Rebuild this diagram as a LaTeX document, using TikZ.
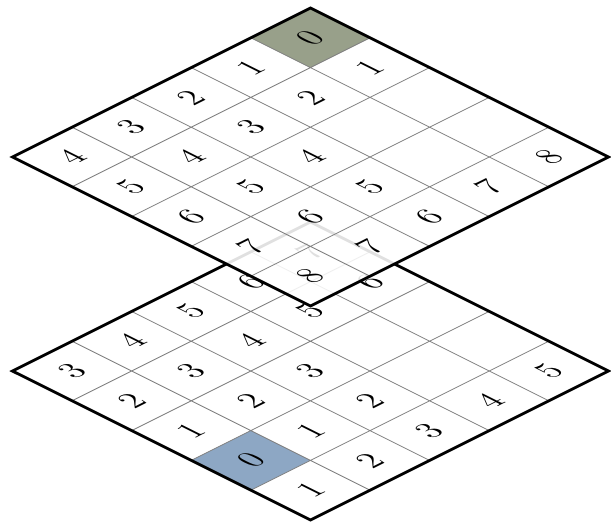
\documentclass[tikz,border=0pt]{standalone}
\usepackage{tikz}
\usetikzlibrary{positioning}
\definecolor{startgreen}{RGB}{152,160,138}
\definecolor{goalblue}{RGB}{141,167,196}

\tikzset{
  cellnum/.style={font=\Large, transform shape, inner sep=0pt},
  gridline/.style={gray, line width=0.6pt},
  border/.style={black, line width=2pt, line join=miter},
}

\begin{document}
\begin{tikzpicture}
    \useasboundingbox (0,0) rectangle (15.275,13.1);

    % Lower map (goal layer)
    \begin{scope}[cm={1.49,0.745,-1.49,0.745,(7.76,0.1)}]
        \fill[goalblue] (0,1) rectangle (1,2);
        \draw[gridline] (0,0) grid (5,5);
        \draw[border] (0,0) rectangle (5,5);
        \foreach \a/\b/\v in {0/1/0, 0/0/1, 1/1/1, 0/2/1, 1/0/2, 2/1/2, 1/2/2, 0/3/2,
                              2/0/3, 2/2/3, 1/3/3, 0/4/3, 3/0/4, 2/3/4, 1/4/4,
                              4/0/5, 2/4/5, 3/3/5, 3/4/6, 4/3/6, 4/4/7} {
            \node[cellnum] (lo-\a-\b) at (\a+0.5,\b+0.5) {\v};
        }
    \end{scope}

    % Upper map (start layer)
    \begin{scope}[cm={1.49,0.745,-1.49,0.745,(7.76,5.45)}]
        \fill[white, fill opacity=0.88] (0,0) rectangle (5,5);
        \fill[startgreen] (4,4) rectangle (5,5);
        \draw[gridline] (0,0) grid (5,5);
        \draw[border] (0,0) rectangle (5,5);
        \foreach \a/\b/\v in {4/4/0, 3/4/1, 4/3/1, 2/4/2, 3/3/2, 1/4/3, 2/3/3,
                              0/4/4, 1/3/4, 2/2/4, 0/3/5, 1/2/5, 2/1/5, 3/0/7,
                              0/2/6, 1/1/6, 2/0/6, 0/1/7, 1/0/7, 0/0/8, 4/0/8} {
            \node[cellnum] (up-\a-\b) at (\a+0.5,\b+0.5) {\v};
        }
    \end{scope}
\end{tikzpicture}
\end{document}
